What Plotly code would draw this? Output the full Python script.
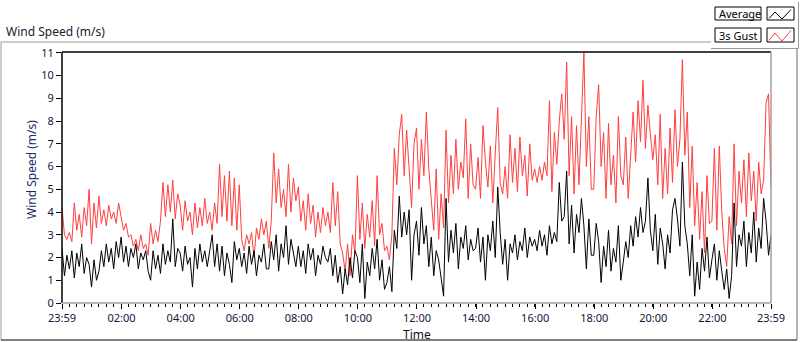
import plotly.graph_objects as go
import pandas as pd

# ---- data: 5-minute samples, 23:59 (previous day) .. 23:59 ----
gust = [
    4.2, 3.0, 2.8, 3.1, 2.7, 4.4, 3.2, 3.9, 2.9, 4.2, 3.4, 5.0,   # 00
    2.6, 4.4, 3.3, 4.7, 3.5, 4.1, 3.4, 4.3, 3.7, 4.0, 3.5, 4.4,   # 01
    3.8, 3.2, 3.5, 2.9, 3.0, 2.5, 2.8, 2.3, 3.0, 2.4, 2.6, 2.1,   # 02
    3.5, 2.6, 3.2, 2.7, 3.6, 5.3, 3.8, 5.2, 4.0, 5.4, 3.7, 4.8,   # 03
    4.3, 3.2, 4.5, 3.6, 4.0, 3.0, 4.4, 3.3, 4.2, 3.4, 4.6, 3.5,   # 04
    4.0, 3.2, 4.4, 3.5, 6.1, 3.8, 5.6, 3.6, 5.8, 3.4, 5.5, 3.2,   # 05
    5.2, 2.8, 2.3, 3.0, 2.6, 3.1, 2.0, 3.3, 2.8, 3.7, 3.0, 3.6,   # 06
    2.4, 3.6, 6.6, 4.4, 5.9, 4.2, 5.0, 3.8, 6.1, 4.0, 5.5, 4.5,   # 07
    5.1, 3.6, 4.5, 3.2, 4.8, 3.5, 4.3, 2.9, 4.0, 3.1, 4.2, 3.4,   # 08
    4.0, 3.1, 5.3, 3.4, 4.9, 2.6, 2.2, 1.4, 2.6, 1.2, 3.0, 2.2,   # 09
    5.6, 2.8, 4.4, 2.4, 3.9, 2.9, 4.5, 2.5, 5.6, 3.0, 3.5, 2.3,   # 10
    2.5, 1.9, 3.0, 6.8, 5.2, 7.4, 8.3, 5.6, 7.6, 6.0, 4.2, 7.0,   # 11
    7.7, 5.0, 7.2, 5.6, 8.4, 5.9, 4.6, 3.2, 5.9, 2.8, 4.8, 3.3,   # 12
    7.6, 4.4, 6.5, 4.8, 7.2, 5.0, 6.2, 5.5, 8.1, 4.6, 7.0, 5.2,   # 13
    5.0, 6.4, 4.6, 7.8, 6.2, 5.1, 6.9, 4.4, 6.6, 8.6, 5.3, 4.8,   # 14
    6.0, 4.6, 7.4, 5.3, 6.8, 4.9, 7.3, 5.6, 6.5, 4.7, 7.0, 5.4,   # 15
    5.9, 5.3, 6.0, 5.4, 6.2, 5.6, 8.9, 4.9, 7.5, 6.1, 8.0, 9.2,   # 16
    7.2, 10.6, 5.6, 8.2, 4.8, 7.8, 5.2, 8.6, 11.0, 6.0, 8.2, 5.0, # 17
    5.0, 8.2, 9.6, 6.0, 7.5, 4.6, 7.9, 5.2, 6.5, 4.4, 8.2, 5.6,   # 18
    5.2, 7.3, 4.6, 6.5, 8.4, 6.2, 8.9, 7.1, 9.8, 6.8, 8.7, 7.4,   # 19
    6.3, 7.4, 5.2, 8.3, 4.6, 6.8, 4.8, 7.7, 5.3, 8.5, 6.0, 7.2,   # 20
    10.7, 6.5, 8.4, 4.2, 6.9, 3.4, 5.3, 2.8, 4.9, 2.2, 5.6, 3.5,  # 21
    3.6, 6.8, 3.2, 6.9, 4.0, 2.4, 1.6, 3.8, 2.6, 7.0, 3.4, 5.8,   # 22
    4.4, 6.3, 3.8, 6.6, 4.5, 5.8, 3.6, 6.2, 4.8, 5.4, 8.8, 9.2,   # 23
    5.0,
]

average = [
    2.4, 1.2, 2.1, 1.5, 2.3, 1.1, 2.2, 1.6, 2.6, 1.3, 2.0, 1.7,   # 00
    0.7, 1.9, 1.0, 1.4, 2.3, 1.6, 2.6, 1.8, 2.4, 1.5, 2.7, 2.0,   # 01
    2.9, 1.8, 2.5, 1.6, 2.4, 2.0, 2.6, 1.5, 2.2, 1.9, 2.3, 1.4,   # 02
    1.0, 2.3, 1.5, 2.1, 1.3, 2.6, 1.7, 2.3, 1.8, 3.7, 1.6, 2.4,   # 03
    2.2, 1.4, 2.5, 1.7, 2.0, 0.7, 2.4, 1.5, 2.6, 1.8, 2.3, 1.6,   # 04
    2.3, 3.0, 1.6, 2.6, 1.4, 2.5, 1.2, 2.2, 1.7, 0.9, 2.7, 1.9,   # 05
    2.4, 1.6, 2.2, 1.3, 2.5, 1.7, 2.3, 1.2, 2.1, 1.8, 2.6, 1.5,   # 06
    1.5, 2.7, 1.9, 3.0, 1.4, 2.6, 2.0, 3.4, 1.7, 2.8, 2.2, 1.6,   # 07
    2.5, 1.6, 2.3, 1.3, 2.6, 1.9, 2.4, 1.2, 2.1, 1.7, 2.5, 2.0,   # 08
    1.8, 2.4, 1.2, 2.1, 0.9, 1.6, 0.4, 1.5, 0.8, 2.0, 1.1, 2.3,   # 09
    2.0, 0.9, 2.6, 0.2, 1.8, 1.2, 2.4, 1.5, 2.8, 1.0, 1.9, 0.6,   # 10
    0.9, 1.6, 0.5, 3.2, 2.4, 4.7, 2.9, 4.0, 3.0, 4.1, 1.0, 3.0,   # 11
    3.6, 2.1, 4.2, 2.6, 3.4, 1.6, 2.9, 1.2, 2.3, 1.9, 1.1, 0.3,   # 12
    4.6, 1.8, 3.2, 2.2, 3.5, 1.5, 2.9, 2.4, 3.4, 1.9, 2.8, 2.3,   # 13
    2.4, 3.3, 1.8, 2.9, 1.0, 3.0, 2.3, 3.6, 2.0, 5.1, 3.1, 1.7,   # 14
    2.8, 1.0, 2.6, 2.2, 3.0, 1.9, 2.7, 2.3, 3.3, 2.0, 2.9, 2.5,   # 15
    2.8, 2.3, 3.2, 2.5, 3.0, 2.1, 3.4, 2.6, 3.1, 2.7, 5.3, 3.6,   # 16
    3.8, 5.8, 2.6, 4.3, 2.2, 3.9, 3.1, 4.6, 3.4, 1.5, 3.7, 2.1,   # 17
    2.1, 3.5, 2.7, 0.9, 2.5, 1.6, 3.2, 1.4, 2.4, 1.8, 3.4, 1.0,   # 18
    1.8, 2.7, 2.0, 3.4, 2.5, 3.8, 2.9, 4.2, 3.1, 3.6, 5.5, 3.2,   # 19
    2.3, 3.9, 1.7, 3.3, 2.6, 1.5, 3.0, 2.2, 4.1, 4.6, 3.7, 2.5,   # 20
    6.2, 3.4, 2.6, 1.2, 3.0, 0.3, 1.8, 0.6, 2.4, 1.4, 2.9, 1.1,   # 21
    1.9, 2.6, 1.0, 2.3, 1.4, 0.6, 1.5, 0.2, 1.2, 4.4, 1.6, 3.0,   # 22
    2.5, 3.6, 1.6, 3.1, 2.2, 4.0, 1.8, 3.3, 2.4, 4.6, 3.6, 2.1,   # 23
    3.0,
]

start_time = "2024-01-01 23:59"
end_time = "2024-01-02 23:59"
times = pd.date_range(start_time, periods=len(gust), freq="5min")

tick_labels = ["23:59", "02:00", "04:00", "06:00", "08:00", "10:00", "12:00",
               "14:00", "16:00", "18:00", "20:00", "22:00", "23:59"]
tick_times = ([pd.Timestamp(start_time)]
              + [pd.Timestamp("2024-01-02") + pd.Timedelta(hours=h) for h in range(2, 24, 2)]
              + [pd.Timestamp(end_time)])
minor_times = [pd.Timestamp(start_time) + pd.Timedelta(minutes=15 * k) for k in range(0, 97)]

series_names = ["Average", "3s Gust"]
series_colors = ["#000000", "#ff3f3f"]

# ---- layout geometry (pixels) ----
W, H = 800, 342
L, R, T, B = 62, 771, 52, 303


def px(x):
    return (x - L) / (R - L)


def py(y):
    return (B - y) / (B - T)


fig = go.Figure()
fig.add_trace(go.Scatter(x=times, y=gust, mode="lines", name=series_names[1],
                         line=dict(color=series_colors[1], width=1), showlegend=False))
fig.add_trace(go.Scatter(x=times, y=average, mode="lines", name=series_names[0],
                         line=dict(color=series_colors[0], width=1), showlegend=False))

tick_font = dict(family="Noto Sans", size=11, color="#14143c")

fig.update_layout(
    width=W, height=H,
    margin=dict(l=L, r=W - R, t=T, b=H - B, autoexpand=False),
    paper_bgcolor="white", plot_bgcolor="white",
    showlegend=False,
    xaxis=dict(
        type="date",
        range=[start_time, end_time],
        tickmode="array", tickvals=tick_times, ticktext=tick_labels,
        ticks="outside", ticklen=5, tickcolor="#000000", tickwidth=1,
        showgrid=False, zeroline=False, showline=False,
        tickfont=tick_font,
        minor=dict(tickmode="array", tickvals=minor_times, ticks="outside",
                   ticklen=3, tickcolor="#000000", tickwidth=1, showgrid=False),
    ),
    yaxis=dict(
        range=[0, 11.04],
        tickmode="linear", tick0=0, dtick=1,
        ticks="outside", ticklen=5, tickcolor="#000000", tickwidth=1,
        showgrid=False, zeroline=False, showline=False,
        tickfont=tick_font,
    ),
)

shapes = []
# outer control frame
shapes.append(dict(type="line", xref="paper", yref="paper", x0=px(1), x1=px(797), y0=py(42), y1=py(42),
                   line=dict(color="#9a9a9a", width=1)))
shapes.append(dict(type="line", xref="paper", yref="paper", x0=px(1), x1=px(1), y0=py(42), y1=py(340),
                   line=dict(color="#9a9a9a", width=1)))
shapes.append(dict(type="line", xref="paper", yref="paper", x0=px(1), x1=px(797), y0=py(340), y1=py(340),
                   line=dict(color="#000000", width=1)))
shapes.append(dict(type="line", xref="paper", yref="paper", x0=px(797), x1=px(797), y0=py(42), y1=py(340),
                   line=dict(color="#6a6a6a", width=1)))
# plot area sunken border
shapes.append(dict(type="line", xref="paper", yref="paper", x0=0, x1=1, y0=1, y1=1,
                   line=dict(color="#000000", width=1.5)))
shapes.append(dict(type="line", xref="paper", yref="paper", x0=0, x1=0, y0=0, y1=1,
                   line=dict(color="#000000", width=1.5)))
shapes.append(dict(type="line", xref="paper", yref="paper", x0=0, x1=1, y0=0, y1=0,
                   line=dict(color="#a0a0a0", width=1.5)))
shapes.append(dict(type="line", xref="paper", yref="paper", x0=1, x1=1, y0=0, y1=1,
                   line=dict(color="#a0a0a0", width=1.5)))
# legend panel
shapes.append(dict(type="rect", xref="paper", yref="paper", x0=px(711), x1=px(798), y0=py(0), y1=py(48),
                   line=dict(width=0), fillcolor="white"))
shapes.append(dict(type="line", xref="paper", yref="paper", x0=px(711), x1=px(798.5), y0=py(48.5), y1=py(48.5),
                   line=dict(color="#9a9a9a", width=1)))
shapes.append(dict(type="line", xref="paper", yref="paper", x0=px(798.5), x1=px(798.5), y0=py(2), y1=py(48.5),
                   line=dict(color="#9a9a9a", width=1)))
legend_rows = [(7, 20), (28, 42)]
for (y0, y1), name, color in zip(legend_rows, series_names, series_colors):
    shapes.append(dict(type="rect", xref="paper", yref="paper", x0=px(715), x1=px(761), y0=py(y1), y1=py(y0),
                       line=dict(color="#000000", width=1), fillcolor="white"))
    shapes.append(dict(type="rect", xref="paper", yref="paper", x0=px(767), x1=px(794), y0=py(y1), y1=py(y0),
                       line=dict(color="#000000", width=1), fillcolor="white"))
    zz = [(769, y1 - 1.5), (775, y0 + 5), (782, y1 - 1), (791, y0 + 2.5)]
    path = "M " + " L ".join(f"{px(a):.5f},{py(b):.5f}" for a, b in zz)
    shapes.append(dict(type="path", xref="paper", yref="paper", path=path,
                       line=dict(color=color, width=1)))
fig.update_layout(shapes=shapes)

annotations = [
    dict(text="Wind Speed (m/s)", xref="paper", yref="paper", x=px(4), y=py(31),
         xanchor="left", yanchor="middle", showarrow=False,
         font=dict(family="Noto Sans", size=12, color="#202030")),
    dict(text="Wind Speed (m/s)", xref="paper", yref="paper", x=px(31), y=py(170),
         xanchor="center", yanchor="middle", textangle=-90, showarrow=False,
         font=dict(family="Noto Sans", size=12, color="#1e2a66")),
    dict(text="Time", xref="paper", yref="paper", x=px(417), y=py(334),
         xanchor="center", yanchor="middle", showarrow=False,
         font=dict(family="Noto Sans", size=12, color="#101020")),
]
for (y0, y1), name in zip(legend_rows, series_names):
    annotations.append(dict(text=name, xref="paper", yref="paper", x=px(717), y=py((y0 + y1) / 2),
                            xanchor="left", yanchor="middle", showarrow=False,
                            font=dict(family="Noto Sans", size=11, color="#000000")))
fig.update_layout(annotations=annotations)

fig.write_html("out.html",
               config={"displayModeBar": False},
               post_script="document.body.style.margin='0';document.body.style.padding='0';")
